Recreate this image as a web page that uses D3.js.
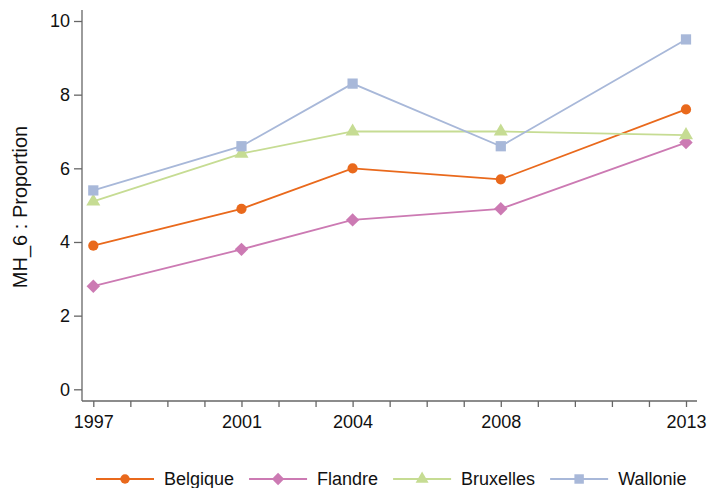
<!DOCTYPE html>
<html>
<head>
<meta charset="utf-8">
<script src="https://cdn.jsdelivr.net/npm/d3@7"></script>
<style>
  html, body { margin: 0; padding: 0; background: #fff; }
  svg { display: block; font-family: "Liberation Sans", Arial, sans-serif; }
</style>
</head>
<body>
<svg id="chart" width="709" height="488"></svg>
<script>
// Survey years and tick labels
const years = [1997, 2001, 2004, 2008, 2013];
const xTickLabels = [1997, 2001, 2004, 2008, 2013];
const yTicks = [0, 2, 4, 6, 8, 10];

// Proportion per region
const belgique  = [3.9, 4.9, 6.0, 5.7, 7.6];
const flandre   = [2.8, 3.8, 4.6, 4.9, 6.7];
const bruxelles = [5.1, 6.4, 7.0, 7.0, 6.9];
const wallonie  = [5.4, 6.6, 8.3, 6.6, 9.5];

const seriesNames = ["Belgique", "Flandre", "Bruxelles", "Wallonie"];
const seriesValues = [belgique, flandre, bruxelles, wallonie];
const seriesColors = ["#E9691C", "#CC7AB3", "#C6DC93", "#A8B8D9"];
const seriesSymbols = [d3.symbolCircle, d3.symbolDiamond2, d3.symbolTriangle, d3.symbolSquare];
const symbolSizes = [82, 115, 85, 105];

const svg = d3.select("#chart");

const x = d3.scaleLinear().domain([1997, 2013]).range([93.3, 686]);
const y = d3.scaleLinear().domain([0, 10]).range([389.3, 21]);

const axisColor = "#666";

// y axis
const yAxisG = svg.append("g").attr("transform", "translate(82,0)")
  .call(d3.axisLeft(y).tickValues(yTicks).tickSize(8).tickPadding(4).tickFormat(d3.format("d")));
yAxisG.select(".domain").remove();
yAxisG.append("line").attr("x1", 0).attr("x2", 0).attr("y1", 10).attr("y2", 401)
  .attr("stroke", axisColor).attr("stroke-width", 1.3);
yAxisG.selectAll(".tick line").attr("stroke", axisColor).attr("stroke-width", 1.3);
yAxisG.selectAll(".tick text").attr("font-size", 18).attr("fill", "#111")
  .attr("font-family", "Liberation Sans, Arial, sans-serif");

// x axis: a tick every year, labels on survey years only
const allYears = d3.range(1997, 2014);
const xAxisG = svg.append("g").attr("transform", "translate(0,401)")
  .call(d3.axisBottom(x).tickValues(allYears).tickSize(6).tickPadding(8)
    .tickFormat(d => xTickLabels.includes(d) ? String(d) : ""));
xAxisG.select(".domain").remove();
xAxisG.append("line").attr("x1", 82).attr("x2", 697).attr("y1", 0).attr("y2", 0)
  .attr("stroke", axisColor).attr("stroke-width", 1.3);
xAxisG.selectAll(".tick line").attr("stroke", axisColor).attr("stroke-width", 1.3);
xAxisG.selectAll(".tick text").attr("font-size", 18).attr("fill", "#111")
  .attr("font-family", "Liberation Sans, Arial, sans-serif");

// y axis title
svg.append("text")
  .attr("transform", "translate(27,207) rotate(-90)")
  .attr("text-anchor", "middle")
  .attr("font-size", 20)
  .attr("fill", "#111")
  .text("MH_6 : Proportion");

// lines and markers
const line = d3.line().x((d, i) => x(years[i])).y(d => y(d));
seriesValues.forEach((vals, s) => {
  const g = svg.append("g");
  g.append("path").datum(vals).attr("d", line)
    .attr("fill", "none").attr("stroke", seriesColors[s]).attr("stroke-width", 1.8);
  g.selectAll("path.mk").data(vals).join("path").attr("class", "mk")
    .attr("transform", (d, i) => `translate(${x(years[i])},${y(d)})`)
    .attr("d", d3.symbol().type(seriesSymbols[s]).size(symbolSizes[s]))
    .attr("fill", seriesColors[s]);
});

// legend
const legendY = 479;
let lx = 96;
seriesNames.forEach((name, s) => {
  const g = svg.append("g");
  g.append("line").attr("x1", lx).attr("x2", lx + 58).attr("y1", legendY).attr("y2", legendY)
    .attr("stroke", seriesColors[s]).attr("stroke-width", 1.8);
  g.append("path").attr("transform", `translate(${lx + 29},${legendY})`)
    .attr("d", d3.symbol().type(seriesSymbols[s]).size(symbolSizes[s] * 0.85))
    .attr("fill", seriesColors[s]);
  const t = g.append("text").attr("x", lx + 68).attr("y", legendY).attr("dy", "0.35em")
    .attr("font-size", 18).attr("fill", "#111").text(name);
  lx = lx + 68 + t.node().getComputedTextLength() + 15;
});
</script>
</body>
</html>
